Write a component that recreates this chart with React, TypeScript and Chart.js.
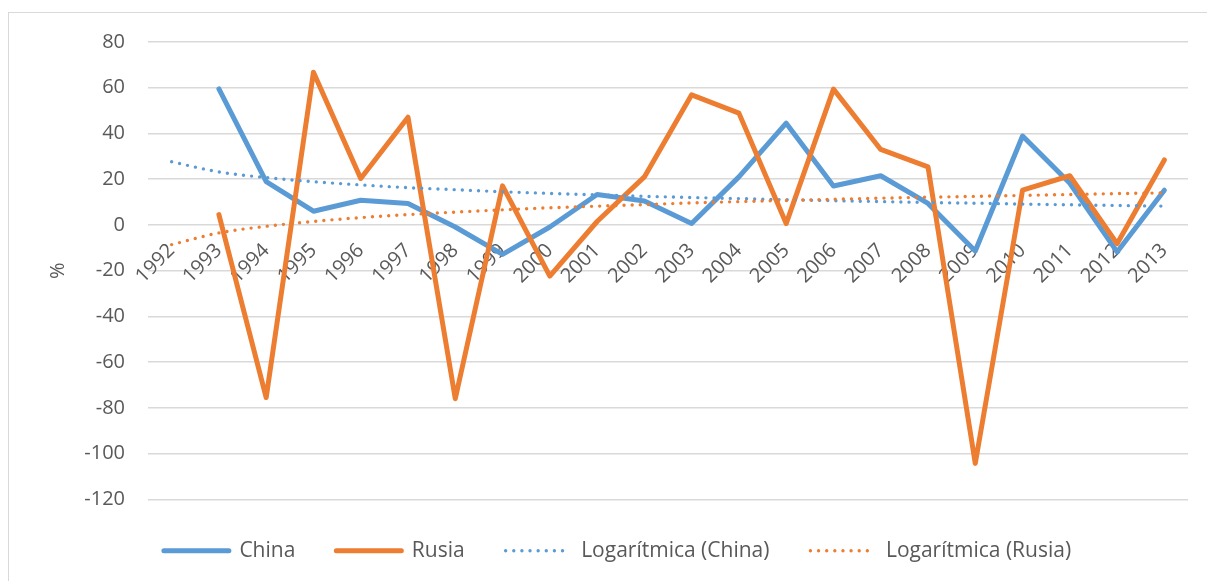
import React, { useEffect, useRef } from 'react';
import { Chart, registerables } from 'chart.js';

Chart.register(...registerables);

const years = ['1992', '1993', '1994', '1995', '1996', '1997', '1998', '1999', '2000', '2001', '2002', '2003', '2004', '2005', '2006', '2007', '2008', '2009', '2010', '2011', '2012', '2013'];

const china = [null, 59.5, 18.9, 6.0, 10.8, 9.4, -0.9, -12.9, -0.9, 13.3, 10.5, 0.6, 21.0, 44.5, 17.0, 21.5, 9.4, -11.4, 38.9, 18.2, -11.8, 15.2];
const rusia = [null, 4.5, -75.5, 66.8, 20.3, 47.1, -76.0, 17.1, -22.4, 1.5, 21.0, 56.9, 48.9, 0.6, 59.4, 33.0, 25.4, -104.3, 15.2, 21.5, -8.2, 28.4];

const trendChina = [27.6, 23.2, 20.7, 18.9, 17.5, 16.3, 15.4, 14.5, 13.8, 13.1, 12.5, 12.0, 11.5, 11.0, 10.6, 10.2, 9.8, 9.5, 9.1, 8.8, 8.5, 8.2];
const trendRusia = [-8.6, -3.5, -0.6, 1.5, 3.2, 4.5, 5.6, 6.6, 7.5, 8.2, 8.9, 9.6, 10.2, 10.7, 11.2, 11.7, 12.1, 12.5, 12.9, 13.3, 13.7, 14.0];

const yMin = -120;
const yMax = 80;
const yStep = 20;

const BLUE = '#5B9BD5';
const ORANGE = '#ED7D31';
const TEXT = '#595959';
const GRID = '#d9d9d9';
const FONT = "'Open Sans', sans-serif";

export default function App() {
  const ref = useRef<HTMLCanvasElement | null>(null);

  useEffect(() => {
    if (!ref.current) return;
    const defaultLabels = (Chart.defaults as any).plugins.legend.labels.generateLabels;
    const chart = new Chart(ref.current, {
      type: 'line',
      data: {
        labels: years,
        datasets: [
          {
            label: 'China',
            data: china,
            borderColor: BLUE,
            backgroundColor: BLUE,
            borderWidth: 5,
            pointRadius: 0,
            borderCapStyle: 'round',
            borderJoinStyle: 'round',
            tension: 0,
            order: 3,
          },
          {
            label: 'Rusia',
            data: rusia,
            borderColor: ORANGE,
            backgroundColor: ORANGE,
            borderWidth: 5,
            pointRadius: 0,
            borderCapStyle: 'round',
            borderJoinStyle: 'round',
            tension: 0,
            order: 2,
          },
          {
            label: 'Logarítmica (China)',
            data: trendChina,
            borderColor: BLUE,
            backgroundColor: BLUE,
            borderWidth: 3.4,
            borderDash: [0, 8.125],
            borderCapStyle: 'round',
            pointRadius: 0,
            cubicInterpolationMode: 'monotone',
            order: 1,
          },
          {
            label: 'Logarítmica (Rusia)',
            data: trendRusia,
            borderColor: ORANGE,
            backgroundColor: ORANGE,
            borderWidth: 3.4,
            borderDash: [0, 8.125],
            borderCapStyle: 'round',
            pointRadius: 0,
            cubicInterpolationMode: 'monotone',
            order: 0,
          },
        ],
      },
      options: {
        animation: false,
        responsive: false,
        maintainAspectRatio: false,
        layout: { padding: { top: 29, right: 19, left: 38, bottom: 9.7 } },
        plugins: {
          tooltip: { enabled: false },
          legend: {
            position: 'bottom',
            labels: {
              color: TEXT,
              font: { family: FONT, size: 21, lineHeight: 0.96 },
              usePointStyle: true,
              pointStyle: 'line',
              pointStyleWidth: 65,
              boxWidth: 65,
              boxHeight: 20,
              padding: 41,
              sort: (a: any, b: any) => a.datasetIndex - b.datasetIndex,
              generateLabels: (c: any) =>
                defaultLabels(c).map((item: any) => {
                  const ds: any = c.data.datasets[item.datasetIndex];
                  return {
                    ...item,
                    lineDash: ds.borderDash || [],
                    lineCap: 'round',
                    lineWidth: ds.borderWidth,
                    strokeStyle: ds.borderColor,
                  };
                }),
            },
          },
        },
        scales: {
          x: {
            position: { y: 0 } as any,
            offset: true,
            grid: { display: false, drawTicks: false, offset: true },
            border: { display: false },
            ticks: {
              color: TEXT,
              font: { family: FONT, size: 20 },
              minRotation: 45,
              maxRotation: 45,
              autoSkip: false,
              padding: 14,
            },
          },
          y: {
            min: yMin,
            max: yMax,
            afterFit: (scale: any) => {
              scale.width = 101;
            },
            grid: {
              color: GRID,
              lineWidth: 1.5,
              drawTicks: true,
              tickLength: 23,
              tickColor: 'rgba(0,0,0,0)',
            },
            border: { display: false },
            ticks: {
              stepSize: yStep,
              color: TEXT,
              font: { family: FONT, size: 20 },
              padding: 0,
            },
            title: {
              display: true,
              text: '%',
              color: TEXT,
              font: { family: FONT, size: 20, lineHeight: 0.1 },
              padding: { top: 10, bottom: 0 },
            },
          },
        },
      },
    });
    return () => chart.destroy();
  }, []);

  return (
    <div
      style={{
        position: 'fixed',
        left: 8,
        top: 12,
        width: 1199,
        height: 569,
        borderLeft: '1px solid #d9d9d9',
        borderTop: '1px solid #d9d9d9',
        background: '#fff',
      }}
    >
      <canvas ref={ref} width={1198} height={568} style={{ display: 'block', width: 1198, height: 568 }} />
    </div>
  );
}
